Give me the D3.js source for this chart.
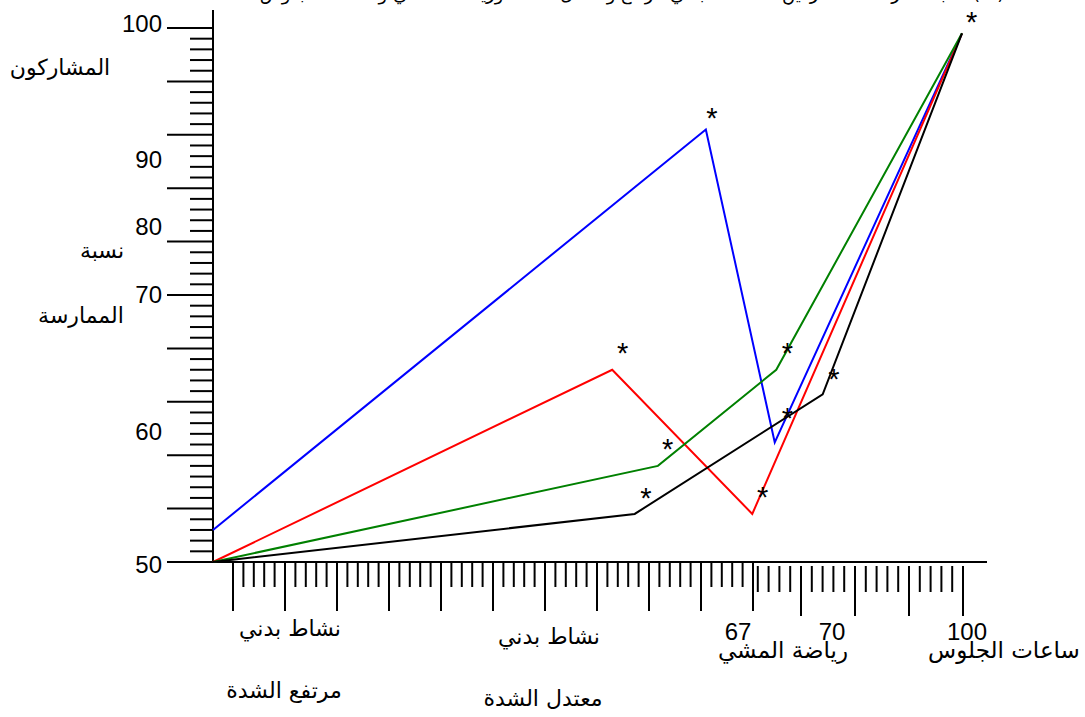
<!DOCTYPE html>
<html lang="ar">
<head>
<meta charset="utf-8">
<script src="https://cdn.jsdelivr.net/npm/d3@7"></script>
<style>
  html, body { margin: 0; padding: 0; background: #fff; }
  svg { display: block; }
</style>
</head>
<body>
<svg id="chart" width="1085" height="717"></svg>
<script>
// ---------------- data ----------------
const titleText = "نسبة ممارسة المشاركين للنشاط البدني مرتفع ومعتدل الشدة ورياضة المشي وساعات الجلوس (%)";
const yTitleLines = ["المشاركون", "نسبة", "الممارسة"];

// y-axis tick labels and the axis value where each label sits (as drawn in the source)
const yTickLabels = ["100", "90", "80", "70", "60", "50"];
const yTickLabelAt = [99.6, 86.9, 80.6, 74.25, 61.4, 49.0];

// category labels under the x axis
const xCatLabels = ["نشاط بدني", "مرتفع الشدة", "نشاط بدني", "معتدل الشدة", "رياضة المشي", "ساعات الجلوس"];
const xNumLabels = ["67", "70", "100"];

// series: x positions (0-100 ruler units) and participation percentages
const seriesNames = ["blue", "red", "green", "black"];
const blueX = [0, 65.8, 75.0, 100];
const blueY = [53.0, 90.5, 61.2, 99.5];
const redX = [0, 53.3, 72.0, 100];
const redY = [50.0, 68.0, 54.5, 99.5];
const greenX = [0, 59.4, 75.2, 100];
const greenY = [50.0, 59.0, 68.0, 99.5];
const blackX = [0, 56.3, 81.4, 100];
const blackY = [50.0, 54.5, 65.7, 99.5];

// significance asterisks
const starX = [66.6, 54.7, 60.7, 57.8, 73.4, 76.7, 76.7, 82.9, 101.3];
const starY = [92.0, 70.0, 61.0, 56.4, 56.5, 70.0, 63.9, 67.6, 101.0];

// ---------------- drawing ----------------
const svg = d3.select("#chart");

const x = d3.scaleLinear().domain([0, 100]).range([213, 962]);
const y = d3.scaleLinear().domain([50, 100]).range([562, 28]);

// ruler scales for the x-axis tick marks
const rulerA = d3.scaleLinear().domain([0, 50]).range([233, 753]);
const rulerB = d3.scaleLinear().domain([0, 20]).range([747, 963]);

const numFont = "'Liberation Sans', Arial, sans-serif";
const arFont = "'DejaVu Sans', sans-serif";

// title (clipped at top in source)
svg.append("text")
  .attr("x", 632).attr("y", 0)
  .attr("text-anchor", "middle")
  .attr("font-family", arFont)
  .attr("font-size", 18)
  .attr("fill", "#000")
  .text(titleText);

// y axis line
svg.append("line")
  .attr("x1", 213).attr("x2", 213)
  .attr("y1", 10).attr("y2", y(50))
  .attr("stroke", "#000").attr("stroke-width", 2);

// y ticks (every unit, long every 5)
const yTicks = d3.range(50, 101, 1);
svg.append("g").selectAll("line").data(yTicks).join("line")
  .attr("x1", d => d % 5 === 0 ? 167 : 190)
  .attr("x2", 213)
  .attr("y1", d => y(d)).attr("y2", d => y(d))
  .attr("stroke", "#000").attr("stroke-width", 2);

// y tick labels
svg.append("g").selectAll("text").data(yTickLabels).join("text")
  .attr("x", 162)
  .attr("y", (d, i) => y(yTickLabelAt[i]))
  .attr("text-anchor", "end")
  .attr("font-family", numFont)
  .attr("font-size", 24)
  .text(d => d);

// y title pieces
const yTitlePos = [[60, 75], [102, 258], [81, 323]];
svg.append("g").selectAll("text").data(yTitleLines).join("text")
  .attr("x", (d, i) => yTitlePos[i][0])
  .attr("y", (d, i) => yTitlePos[i][1])
  .attr("text-anchor", "middle")
  .attr("font-family", arFont)
  .attr("font-size", 22)
  .text(d => d);

// x axis line
svg.append("line")
  .attr("x1", 167).attr("x2", 987)
  .attr("y1", y(50)).attr("y2", y(50))
  .attr("stroke", "#000").attr("stroke-width", 2);

// x ruler ticks, first section
svg.append("g").selectAll("line").data(d3.range(0, 51)).join("line")
  .attr("x1", d => rulerA(d)).attr("x2", d => rulerA(d))
  .attr("y1", 562)
  .attr("y2", d => d % 5 === 0 ? 611 : 587)
  .attr("stroke", "#000").attr("stroke-width", 2);

// x ruler ticks, second section
svg.append("g").selectAll("line").data(d3.range(1, 21)).join("line")
  .attr("x1", d => rulerB(d)).attr("x2", d => rulerB(d))
  .attr("y1", 566)
  .attr("y2", d => d % 5 === 0 ? 616 : 592)
  .attr("stroke", "#000").attr("stroke-width", 2);

// x category labels
const xCatPos = [[290, 636], [284, 698], [549, 644], [543, 706], [783, 658], [1004, 658]];
const xCatSize = [22, 22, 22, 22, 23, 23];
svg.append("g").selectAll("text").data(xCatLabels).join("text")
  .attr("x", (d, i) => xCatPos[i][0])
  .attr("y", (d, i) => xCatPos[i][1])
  .attr("text-anchor", "middle")
  .attr("font-family", arFont)
  .attr("font-size", (d, i) => xCatSize[i])
  .text(d => d);

// x number labels
const xNumPos = [738, 832, 967];
svg.append("g").selectAll("text").data(xNumLabels).join("text")
  .attr("x", (d, i) => xNumPos[i])
  .attr("y", 640)
  .attr("text-anchor", "middle")
  .attr("font-family", numFont)
  .attr("font-size", 24)
  .text(d => d);

// series lines
const seriesData = {
  blue: { xs: blueX, ys: blueY, color: "#0000ff" },
  red: { xs: redX, ys: redY, color: "#ff0000" },
  green: { xs: greenX, ys: greenY, color: "#008000" },
  black: { xs: blackX, ys: blackY, color: "#000000" }
};
const line = d3.line().x(d => x(d[0])).y(d => y(d[1]));
seriesNames.forEach(name => {
  const s = seriesData[name];
  const pts = s.xs.map((v, i) => [v, s.ys[i]]);
  svg.append("path")
    .datum(pts)
    .attr("d", line)
    .attr("fill", "none")
    .attr("stroke", s.color)
    .attr("stroke-width", 2)
    .attr("stroke-linejoin", "miter");
});

// asterisks
const starFs = 29;
svg.append("g").selectAll("text").data(starX).join("text")
  .attr("x", d => x(d))
  .attr("y", (d, i) => y(starY[i]) + starFs * 0.5)
  .attr("text-anchor", "middle")
  .attr("font-family", numFont)
  .attr("font-size", starFs)
  .text("*");
</script>
</body>
</html>
